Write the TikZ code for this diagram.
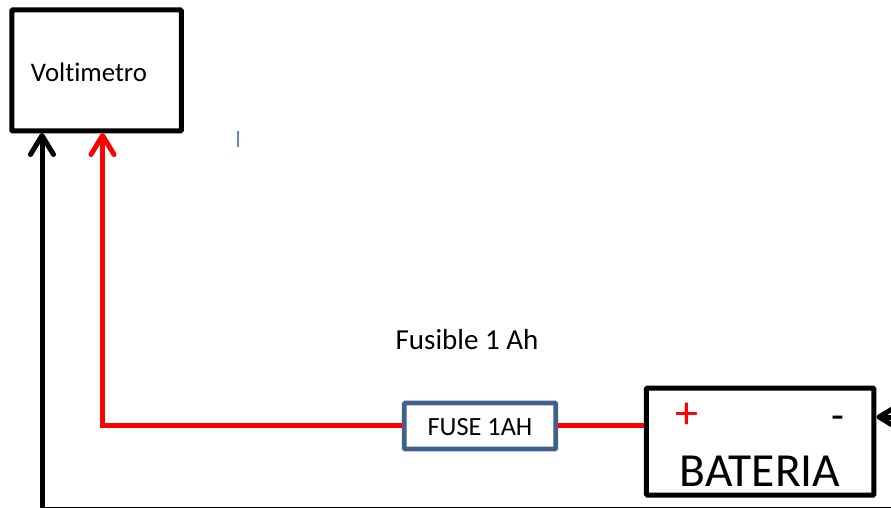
\documentclass[tikz,border=0pt]{standalone}
\usepackage{fontspec}
\setmainfont[Ligatures=NoCommon,Contextuals=NoAlternate]{Carlito}
\usetikzlibrary{arrows.meta}
\definecolor{fuseblue}{HTML}{3F5F8C}
\definecolor{tickblue}{HTML}{5B8BC9}
\tikzset{
  x=1pt,y=-1pt,
  box/.style={draw=black,line width=5pt,rounded corners=1pt,inner sep=0pt,fill=white},
  fusebox/.style={box,draw=fuseblue,line width=4.6pt},
  lbl/.style={inner sep=0pt,text=black,anchor=center},
  wire/.style={line width=5pt,line join=miter},
  tip/.style={-{Straight Barb[length=19pt,width=23pt,line width=5pt,round]}},
}
\begin{document}
\begin{tikzpicture}
\useasboundingbox (0,0) rectangle (891,508);
\clip (0,0) rectangle (891,508);
\node[box,minimum width=169.5pt,minimum height=121pt] (volt) at (96.5,70.5) {};
\node[fusebox,minimum width=151.5pt,minimum height=46pt] (fuse) at (480,426) {};
\node[box,minimum width=227.5pt,minimum height=107pt] (bat) at (760.2,441.5) {};
\node[lbl,font=\fontsize{26.8}{30}\selectfont] (vtext) at (89,72) {Voltimetro};
\node[lbl,font=\fontsize{29}{33}\selectfont] (ftext) at (467,340) {Fusible 1 Ah};
\node[lbl,font=\fontsize{26.3}{30}\selectfont] (fusetext) at (480,427) {FUSE 1AH};
\node[lbl,font=\fontsize{47.5}{52}\selectfont] (battext) at (760,471) {BATERIA};
\node[lbl,text=red,font=\fontsize{46}{50}\selectfont] (plus) at (686.5,416) {+};
\node[lbl,font=\fontsize{42}{46}\selectfont] (minus) at (837.5,423) {-};
\coordinate (vblack) at (42,133);
\coordinate (vred) at (102.5,133);
\coordinate (corner) at (102.5,425.5);
\coordinate (bcorner) at (42,509);
\coordinate (bout) at (905,509);
\coordinate (nout) at (910,417);
\coordinate (bneg) at (876.5,417);
\draw[wire,red,tip] (fuse.west |- corner) -- (corner) -- (vred);
\draw[wire,red] (fuse.east |- corner) -- (bat.west |- corner);
\draw[wire,black,tip] (bout) -- (bcorner) -- (vblack);
\draw[wire,black,tip] (nout) -- (bneg);
\draw[line width=2.6pt,tickblue] (238,131) -- (238,147);
\end{tikzpicture}
\end{document}
